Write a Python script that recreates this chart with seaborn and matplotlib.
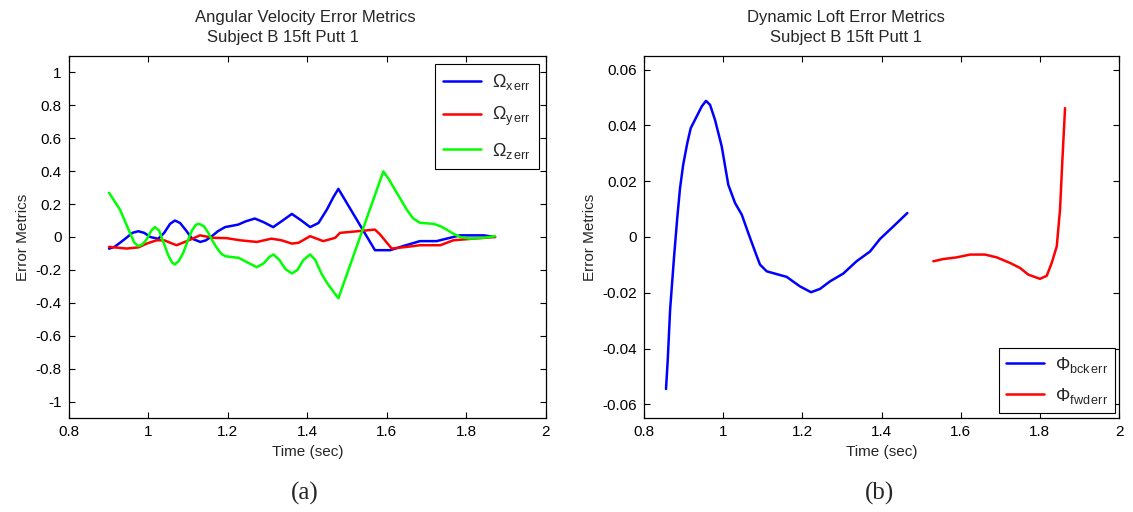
import numpy as np
import pandas as pd
import matplotlib
matplotlib.use("Agg")
import matplotlib.pyplot as plt
import seaborn as sns
from matplotlib.ticker import MultipleLocator, FuncFormatter

# ---------------- data ----------------
# Panel (a): angular velocity error metrics
wx_t = [0.9015, 0.915, 0.929, 0.945, 0.96, 0.975, 0.99, 1.005, 1.025, 1.04, 1.055, 1.067,
        1.08, 1.095, 1.11, 1.131, 1.145, 1.16, 1.175, 1.193, 1.226, 1.245, 1.268, 1.29,
        1.314, 1.335, 1.361, 1.385, 1.407, 1.428, 1.449, 1.465, 1.478, 1.570, 1.608,
        1.641, 1.683, 1.725, 1.767, 1.784, 1.843, 1.872]
wx_v = [-0.071, -0.06, -0.035, -0.005, 0.025, 0.035, 0.025, 0.0, -0.011, 0.025, 0.08, 0.10,
        0.085, 0.04, -0.01, -0.03, -0.02, 0.005, 0.035, 0.06, 0.075, 0.095, 0.112, 0.09,
        0.06, 0.095, 0.14, 0.10, 0.06, 0.085, 0.166, 0.24, 0.292, -0.08, -0.08,
        -0.055, -0.025, -0.025, 0.0, 0.01, 0.01, 0.0]

wy_t = [0.9015, 0.946, 0.975, 0.996, 1.021, 1.04, 1.071, 1.097, 1.130, 1.164, 1.197,
        1.231, 1.273, 1.310, 1.335, 1.361, 1.378, 1.407, 1.44, 1.47, 1.482, 1.570,
        1.583, 1.612, 1.65, 1.683, 1.734, 1.767, 1.817, 1.872]
wy_v = [-0.06, -0.07, -0.063, -0.04, -0.02, -0.02, -0.05, -0.025, 0.01, -0.005, -0.007,
        -0.02, -0.03, -0.01, -0.02, -0.04, -0.035, 0.005, -0.025, -0.005, 0.025, 0.045,
        0.015, -0.07, -0.06, -0.05, -0.05, -0.02, -0.01, 0.0]

wz_t = [0.9015, 0.929, 0.954, 0.965, 0.975, 0.985, 0.996, 1.008, 1.017, 1.027, 1.038,
        1.05, 1.06, 1.067, 1.077, 1.088, 1.098, 1.11, 1.12, 1.128, 1.14, 1.151, 1.162,
        1.172, 1.183, 1.193, 1.21, 1.227, 1.25, 1.273, 1.29, 1.305, 1.315, 1.33, 1.345,
        1.361, 1.375, 1.39, 1.407, 1.42, 1.435, 1.449, 1.465, 1.478, 1.591, 1.605, 1.620,
        1.650, 1.665, 1.683, 1.717, 1.735, 1.750, 1.767, 1.784, 1.809, 1.843, 1.872]
wz_v = [0.268, 0.166, 0.025, -0.035, -0.055, -0.045, -0.015, 0.04, 0.06, 0.04, -0.03,
        -0.11, -0.155, -0.166, -0.145, -0.096, -0.03, 0.04, 0.075, 0.08, 0.065, 0.025, -0.025,
        -0.065, -0.10, -0.116, -0.122, -0.126, -0.155, -0.183, -0.16, -0.12, -0.106, -0.14, -0.195,
        -0.221, -0.20, -0.14, -0.106, -0.14, -0.22, -0.277, -0.33, -0.372, 0.398, 0.35, 0.288,
        0.166, 0.115, 0.086, 0.08, 0.065, 0.045, 0.02, 0.0, -0.01, -0.005, 0.005]

# Panel (b): dynamic loft error metrics
bck_t = [0.8556, 0.860, 0.866, 0.876, 0.884, 0.891, 0.899, 0.9094, 0.918, 0.933, 0.9458,
         0.9566, 0.9668, 0.9794, 0.9963, 1.013, 1.030, 1.047, 1.0635, 1.0805, 1.093, 1.110,
         1.135, 1.1605, 1.194, 1.222, 1.2447, 1.270, 1.3035, 1.337, 1.371, 1.3963, 1.430,
         1.4653]
bck_v = [-0.0545, -0.044, -0.026, -0.007, 0.0068, 0.0175, 0.0259, 0.0337, 0.039, 0.0432,
         0.0468, 0.0488, 0.0474, 0.042, 0.0325, 0.0187, 0.0122, 0.008, 0.0014, -0.0052,
         -0.0099, -0.0123, -0.0133, -0.0143, -0.0177, -0.0198, -0.0186, -0.0159, -0.0131,
         -0.0087, -0.0052, -0.0007, 0.0038, 0.0086]

fwd_t = [1.531, 1.556, 1.590, 1.6236, 1.6615, 1.691, 1.7247, 1.750, 1.771, 1.8005, 1.8175,
         1.830, 1.8427, 1.851, 1.857, 1.8637]
fwd_v = [-0.0087, -0.0079, -0.0073, -0.0063, -0.0063, -0.0073, -0.0093, -0.0111, -0.0135,
         -0.0150, -0.0139, -0.0093, -0.0034, 0.0098, 0.0277, 0.0462]

labels_a = [r"$\Omega_{\mathrm{x\,err}}$", r"$\Omega_{\mathrm{y\,err}}$", r"$\Omega_{\mathrm{z\,err}}$"]
labels_b = [r"$\Phi_{\mathrm{bck\,err}}$", r"$\Phi_{\mathrm{fwd\,err}}$"]

df_a = pd.concat([
    pd.DataFrame({"t": wx_t, "v": wx_v, "s": labels_a[0]}),
    pd.DataFrame({"t": wy_t, "v": wy_v, "s": labels_a[1]}),
    pd.DataFrame({"t": wz_t, "v": wz_v, "s": labels_a[2]}),
], ignore_index=True)
df_b = pd.concat([
    pd.DataFrame({"t": bck_t, "v": bck_v, "s": labels_b[0]}),
    pd.DataFrame({"t": fwd_t, "v": fwd_v, "s": labels_b[1]}),
], ignore_index=True)

# ---------------- style ----------------
sns.set_theme(style="ticks")
plt.rcParams["font.family"] = ["Liberation Sans", "DejaVu Sans"]
plt.rcParams["mathtext.fontset"] = "custom"
plt.rcParams["mathtext.rm"] = "Liberation Sans"
plt.rcParams["mathtext.it"] = "Liberation Sans:italic"
plt.rcParams["mathtext.bf"] = "Liberation Sans:bold"

fig = plt.figure(figsize=(11.33, 5.12), dpi=100)
fig.patch.set_facecolor("white")

W, H = 1133.0, 512.0
ax_a = fig.add_axes([68.7 / W, 1 - 418.3 / H, (546 - 68.7) / W, (418.3 - 55.7) / H])
ax_b = fig.add_axes([644 / W, 1 - 418.3 / H, (1119 - 644) / W, (418.3 - 55.7) / H])

fmt = FuncFormatter(lambda v, p: f"{round(v, 6) + 0.0:g}")

sns.lineplot(data=df_a, x="t", y="v", hue="s", palette=["#0000ff", "#ff0000", "#00ff00"],
             estimator=None, sort=False, lw=1.8, ax=ax_a)
sns.lineplot(data=df_b, x="t", y="v", hue="s", palette=["#0000ff", "#ff0000"],
             estimator=None, sort=False, lw=1.8, ax=ax_b)

for ax in (ax_a, ax_b):
    ax.set_xlim(0.8, 2.0)
    ax.xaxis.set_major_locator(MultipleLocator(0.2))
    ax.xaxis.set_major_formatter(fmt)
    ax.yaxis.set_major_formatter(fmt)
    ax.tick_params(direction="in", top=True, right=True, length=4, width=0.8,
                   labelsize=11, colors="black", pad=5)
    for sp in ax.spines.values():
        sp.set_visible(True)
        sp.set_color("black")
        sp.set_linewidth(0.9)
    ax.set_xlabel("Time (sec)", fontsize=11, labelpad=4)
    ax.set_ylabel("Error Metrics", fontsize=11, labelpad=4)
    ax.set_facecolor("white")

ax_a.set_ylim(-1.1, 1.1)
ax_a.yaxis.set_major_locator(MultipleLocator(0.2))
ax_b.set_ylim(-0.065, 0.065)
ax_b.yaxis.set_major_locator(MultipleLocator(0.02))

# titles (two lines, MATLAB style)
ax_a.text((305 - 68.7) / 477.3, 1.0 + 38 / 362.6, "Angular Velocity Error Metrics",
          transform=ax_a.transAxes, ha="center", va="center", fontsize=12)
ax_a.text((207 - 68.7) / 477.3, 1.0 + 18 / 362.6, "Subject B 15ft Putt 1",
          transform=ax_a.transAxes, ha="left", va="center", fontsize=12)
ax_b.text((846 - 644) / 475, 1.0 + 38 / 362.6, "Dynamic Loft Error Metrics",
          transform=ax_b.transAxes, ha="center", va="center", fontsize=12)
ax_b.text((770 - 644) / 475, 1.0 + 18 / 362.6, "Subject B 15ft Putt 1",
          transform=ax_b.transAxes, ha="left", va="center", fontsize=12)

# legends
h, l = ax_a.get_legend_handles_labels()
ax_a.legend(h, l, loc="upper right", bbox_to_anchor=(0.985, 0.977), borderaxespad=0,
            fontsize=13, frameon=True, fancybox=False, framealpha=1, edgecolor="black",
            handlelength=2.1, labelspacing=0.7, borderpad=0.45, handletextpad=0.6)
ax_a.get_legend().get_frame().set_linewidth(0.8)
h, l = ax_b.get_legend_handles_labels()
ax_b.legend(h, l, loc="lower right", bbox_to_anchor=(0.992, 0.015), borderaxespad=0,
            fontsize=13, frameon=True, fancybox=False, framealpha=1, edgecolor="black",
            handlelength=2.1, labelspacing=0.6, borderpad=0.4, handletextpad=0.6)
ax_b.get_legend().get_frame().set_linewidth(0.8)

# panel captions
fig.text(305 / W, 1 - 493 / H, "(a)", ha="center", va="center", fontsize=18,
         family=["Liberation Serif", "DejaVu Serif"])
fig.text(880 / W, 1 - 493 / H, "(b)", ha="center", va="center", fontsize=18,
         family=["Liberation Serif", "DejaVu Serif"])

fig.savefig("out.png", dpi=100, facecolor="white")
